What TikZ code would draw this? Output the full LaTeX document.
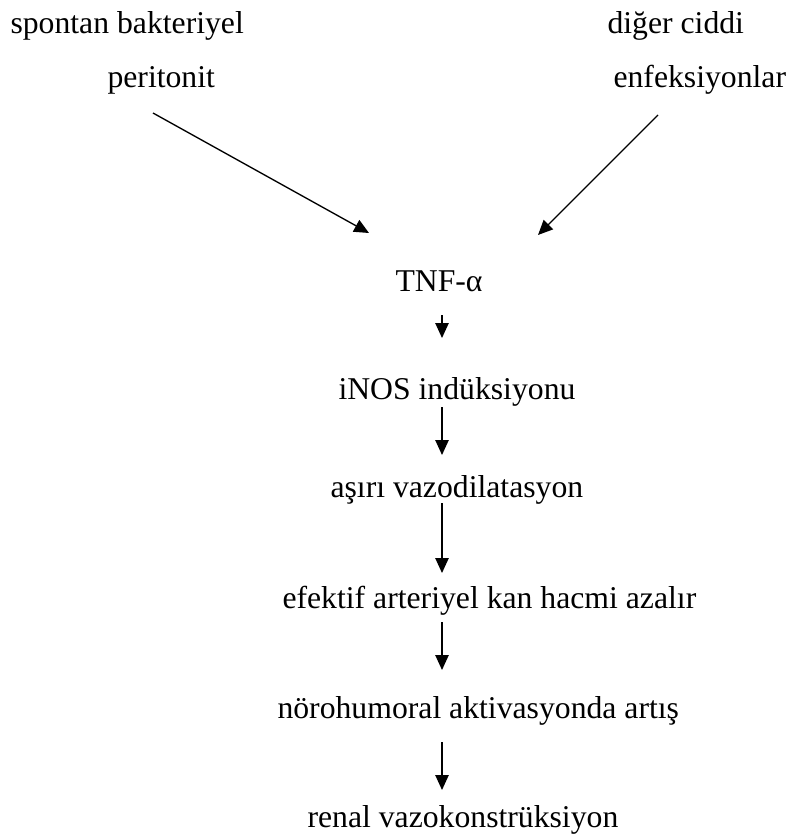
\documentclass[tikz,border=0pt]{standalone}
\usepackage{fontspec}
\setmainfont{Liberation Serif}
\usetikzlibrary{arrows.meta,calc}

\begin{document}
\begin{tikzpicture}[
  x=0.3785pt, y=-0.3785pt,
  every node/.style={font=\fontsize{12}{14}\selectfont, inner sep=0pt, anchor=base west},
  arr/.style={-{Triangle[length=5.6pt, width=5pt]}, line width=0.5pt}
]
\useasboundingbox (0,0) rectangle (793,839);
% Top row: the two triggers
\node (sbp1)   at (10, 33)  {spontan bakteriyel};
\node (sbp2)   at (107, 88) {peritonit};
\node (inf1)   at (607, 33) {diğer ciddi};
\node (inf2)   at (613, 88) {enfeksiyonlar};
% Middle column: the cascade
\coordinate (spine) at (442, 0);
\node (tnf)    at (395, 291) {TNF-α};
\node (inos)   at (338, 399) {iNOS indüksiyonu};
\node (vaso)   at (330, 497) {aşırı vazodilatasyon};
\node (volume) at (282, 608) {efektif arteriyel kan hacmi azalır};
\node (neuro)  at (277, 718) {nörohumoral aktivasyonda artış};
\node (renal)  at (307, 827) {renal vazokonstrüksiyon};
% Triggers into TNF
\draw[arr] ($(sbp2.base west)+(46,25)$) -- ($(tnf.base west)+(-26,-58)$);
\draw[arr] ($(inf2.base west)+(45,27)$) -- ($(tnf.base west)+(143,-56)$);
% Vertical chain
\draw[arr] ($(tnf.base -| spine)+(0,24)$)    -- ($(inos.base -| spine)+(0,-61)$);
\draw[arr] ($(inos.base -| spine)+(0,8)$)    -- ($(vaso.base -| spine)+(0,-42)$);
\draw[arr] ($(vaso.base -| spine)+(0,6)$)    -- ($(volume.base -| spine)+(0,-35)$);
\draw[arr] ($(volume.base -| spine)+(0,14)$) -- ($(neuro.base -| spine)+(0,-48)$);
\draw[arr] ($(neuro.base -| spine)+(0,24)$)  -- ($(renal.base -| spine)+(0,-37)$);
\end{tikzpicture}
\end{document}
